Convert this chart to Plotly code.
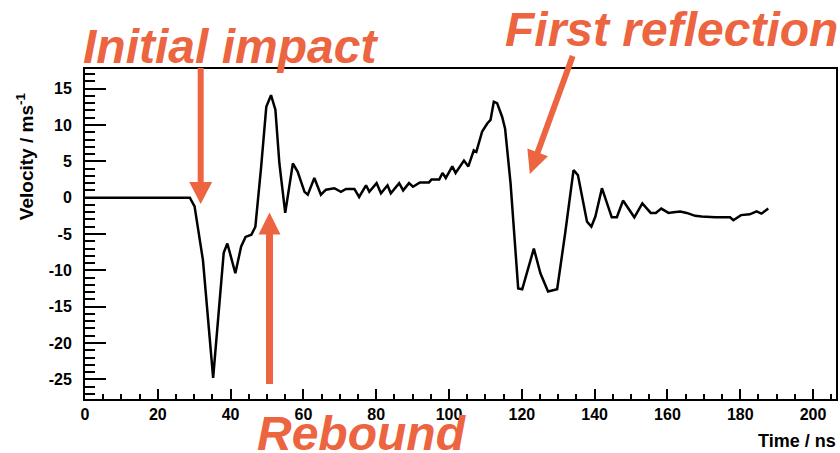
import plotly.graph_objects as go

# Velocity trace of the impact measurement
time_ns = [0, 10, 20, 28.8, 30.1, 32.4, 35.2, 38.1, 39.1, 41.3, 42.9, 44.1, 45.7, 46.8,
           48.4, 49.8, 51.1, 52.3, 53.4, 55.0, 57.1, 58.4, 60.3, 61.2, 63.0, 64.8, 66.2,
           68.5, 70.3, 71.7, 74.0, 75.3, 77.2, 78.1, 80.1, 81.3, 83.1, 84.0, 86.3, 87.4,
           89.0, 90.1, 92.0, 94.5, 95.2, 97.3, 98.2, 99.1, 100.9, 101.8, 104.1, 105.3,
           106.8, 107.5, 109.1, 110.5, 111.4, 112.3, 113.2, 114.6, 115.4, 116.9, 119.0,
           120.1, 123.3, 125.1, 127.2, 129.7, 131.9, 134.2, 135.4, 137.9, 139.1, 140.2,
           142.0, 144.7, 146.1, 147.8, 150.9, 153.1, 155.4, 156.8, 158.3, 160.3, 161.7,
           163.5, 165.3, 167.6, 169.4, 173.1, 177.2, 178.1, 180.2, 182.6, 184.5, 185.8,
           187.7]
velocity = [0, 0, 0, 0, -1.2, -8.6, -24.8, -7.6, -6.3, -10.4, -6.7, -5.4, -5.1, -4.0,
            4.3, 12.5, 14.1, 12.1, 4.7, -2.1, 4.7, 3.6, 0.8, 0.4, 2.7, 0.4, 1.1,
            1.3, 0.8, 1.2, 1.2, 0.1, 1.7, 0.8, 2.0, 0.6, 1.7, 0.6, 2.0, 1.0,
            2.0, 1.5, 2.1, 2.1, 2.5, 2.5, 3.4, 2.7, 4.3, 3.4, 5.1, 4.3,
            6.5, 6.3, 9.1, 10.2, 10.7, 13.2, 13.0, 11.1, 9.5, 2.0, -12.5,
            -12.6, -7.0, -10.4, -12.9, -12.6, -4.9, 3.8, 3.1, -3.3, -4.0, -2.6,
            1.3, -2.7, -2.7, -0.4, -2.7, -0.8, -2.1, -2.1, -1.5, -2.1, -2.0,
            -1.9, -2.1, -2.5, -2.6, -2.7, -2.7, -3.1, -2.4, -2.3, -1.9, -2.2,
            -1.5]

y_ticks = [-25, -20, -15, -10, -5, 0, 5, 10, 15]
y_tick_text = ["-25", "-20", "-15", "-10", "-5", "0", "5", "10", "15"]
x_ticks = [0, 20, 40, 60, 80, 100, 120, 140, 160, 180, 200]
x_tick_text = [str(v) for v in x_ticks]

W, H = 840, 453
L, R, T, B = 85, 2, 69, 54
PW, PH = W - L - R, H - T - B
ORANGE = "#EC6440"
FONT = "Liberation Sans, Arial, sans-serif"


def px(x):
    return (x - L) / PW


def py(y):
    return (H - B - y) / PH


fig = go.Figure()
fig.add_trace(go.Scatter(x=time_ns, y=velocity, mode="lines",
                         line=dict(color="black", width=2.5), showlegend=False))

tick_font = dict(family=FONT, size=16, color="black", weight="bold")
fig.update_xaxes(range=[0, 206.3], showgrid=False, zeroline=False,
                 showline=True, linecolor="black", linewidth=2, mirror=True,
                 ticks="inside", ticklen=10, tickwidth=2, tickcolor="black",
                 tickvals=x_ticks, ticktext=x_tick_text, tickfont=tick_font,
                 minor=dict(ticks="inside", ticklen=5, tickwidth=2,
                            tickcolor="black", dtick=5, showgrid=False))
fig.update_yaxes(range=[-27.7, 17.7], showgrid=False, zeroline=False,
                 showline=True, linecolor="black", linewidth=2, mirror=True,
                 ticks="inside", ticklen=21, tickwidth=2, tickcolor="black",
                 tickvals=y_ticks, ticktext=y_tick_text, tickfont=tick_font,
                 ticklabelstandoff=8,
                 minor=dict(ticks="inside", ticklen=10, tickwidth=2,
                            tickcolor="black", dtick=1, showgrid=False))


def arrow(x0, y0, x1, y1, head_len, half_w, width):
    """Straight arrow from (x0, y0) to tip (x1, y1), in pixels."""
    dx, dy = x1 - x0, y1 - y0
    n = (dx * dx + dy * dy) ** 0.5
    ux, uy = dx / n, dy / n
    bx, by = x1 - ux * head_len, y1 - uy * head_len
    nx, ny = -uy, ux
    return [
        dict(type="line", xref="paper", yref="paper",
             x0=px(x0), y0=py(y0), x1=px(bx + ux), y1=py(by + uy),
             line=dict(color=ORANGE, width=width)),
        dict(type="path", xref="paper", yref="paper",
             path=(f"M {px(bx + nx * half_w)} {py(by + ny * half_w)} "
                   f"L {px(bx - nx * half_w)} {py(by - ny * half_w)} "
                   f"L {px(x1)} {py(y1)} Z"),
             fillcolor=ORANGE, line=dict(color=ORANGE, width=0)),
    ]


shapes = []
shapes += arrow(201, 68, 201, 204, 22, 11.5, 6)
shapes += arrow(270, 384, 270, 212.5, 22, 11, 7)
shapes += arrow(574, 56, 531, 174, 23, 11, 6)

big = dict(family=FONT, size=48, color=ORANGE, weight="bold", style="italic")
annotations = [
    dict(text="Initial impact", x=px(81), y=py(46), xref="paper", yref="paper",
         xanchor="left", yanchor="middle", showarrow=False, font=big),
    dict(text="First reflection", x=px(504), y=py(29), xref="paper", yref="paper",
         xanchor="left", yanchor="middle", showarrow=False, font=big),
    dict(text="Rebound", x=px(255), y=py(434), xref="paper", yref="paper",
         xanchor="left", yanchor="middle", showarrow=False, font=big),
    dict(text="Velocity / ms<sup>-1</sup>", x=px(25), y=py(156), xref="paper",
         yref="paper", xanchor="center", yanchor="middle", textangle=-90,
         showarrow=False, font=dict(family=FONT, size=19, color="black", weight="bold")),
    dict(text="Time / ns", x=px(840), y=py(441), xref="paper", yref="paper",
         xanchor="right", yanchor="middle", showarrow=False,
         font=dict(family=FONT, size=18, color="black", weight="bold")),
]

fig.update_layout(width=W, height=H, margin=dict(l=L, r=R, t=T, b=B, pad=0),
                  paper_bgcolor="white", plot_bgcolor="white",
                  shapes=shapes, annotations=annotations)

fig.write_html("out.html")
